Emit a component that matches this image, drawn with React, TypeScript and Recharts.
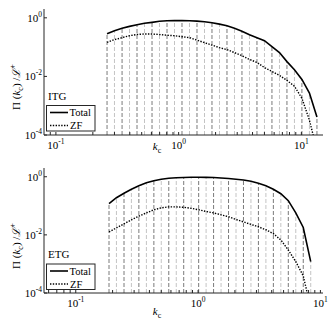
import React from 'react';
import { ComposedChart, Line, XAxis, YAxis, ReferenceLine } from 'recharts';

// ITG panel
const itgK = [0.261, 0.300, 0.346, 0.398, 0.458, 0.527, 0.607, 0.698, 0.804, 0.925, 1.065, 1.226, 1.411, 1.624, 1.869, 2.151, 2.476, 2.850, 3.280, 3.776, 4.346, 5.002, 5.757, 6.627, 7.627, 8.779, 10.10, 11.63, 13.39];
const itgTotal = [0.287, 0.36, 0.44, 0.51, 0.58, 0.65, 0.70, 0.76, 0.79, 0.80, 0.80, 0.79, 0.77, 0.73, 0.68, 0.61, 0.54, 0.44, 0.35, 0.265, 0.21, 0.166, 0.104, 0.065, 0.032, 0.017, 0.0079, 0.0027, 0.00041];
const itgZF = [0.146, 0.18, 0.21, 0.245, 0.27, 0.28, 0.28, 0.27, 0.255, 0.245, 0.227, 0.21, 0.173, 0.142, 0.117, 0.096, 0.082, 0.065, 0.051, 0.038, 0.030, 0.020, 0.0148, 0.0108, 0.0073, 0.0046, 0.0018, 0.00032, 0.00003];

// ETG panel
const etgK = [0.187, 0.215, 0.248, 0.285, 0.328, 0.378, 0.435, 0.500, 0.576, 0.663, 0.763, 0.878, 1.011, 1.163, 1.339, 1.541, 1.774, 2.042, 2.350, 2.705, 3.113, 3.584, 4.125, 4.748, 5.465, 6.290, 7.240, 8.333];
const etgTotal = [0.12, 0.19, 0.27, 0.37, 0.49, 0.62, 0.73, 0.82, 0.89, 0.92, 0.94, 0.96, 0.96, 0.95, 0.94, 0.91, 0.87, 0.82, 0.77, 0.70, 0.60, 0.49, 0.37, 0.26, 0.15, 0.057, 0.018, 0.0012];
const etgZF = [0.0126, 0.0174, 0.024, 0.033, 0.044, 0.057, 0.073, 0.085, 0.092, 0.092, 0.089, 0.082, 0.073, 0.064, 0.057, 0.049, 0.042, 0.034, 0.028, 0.023, 0.019, 0.015, 0.011, 0.0067, 0.0030, 0.0012, 0.00039, 0.00003];

const yTicks = [1e-4, 1e-2, 1];
const itgXTicks = [0.09, 0.1, 0.2, 0.3, 0.4, 0.5, 0.6, 0.7, 0.8, 0.9, 1, 2, 3, 4, 5, 6, 7, 8, 9, 10];
const etgXTicks = [0.06, 0.07, 0.08, 0.09, 0.1, 0.2, 0.3, 0.4, 0.5, 0.6, 0.7, 0.8, 0.9, 1, 2, 3, 4, 5, 6, 7, 8, 9, 10];
const majorX = [0.1, 1, 10];
const seriesNames = ['Total', 'ZF'];

const FONT = '"Liberation Serif", "DejaVu Serif", serif';
const AXIS = '#262626';

const expOf = (v: number) => String(Math.round(Math.log10(v)));
const isMajor = (v: number) => majorX.some((m) => Math.abs(m - v) / m < 1e-6);

const XTick = (props: any) => {
  const { x, y, payload } = props;
  const v = payload.value;
  if (!isMajor(v)) return <g />;
  return (
    <text x={x} y={y + 10} textAnchor="middle" fontFamily={FONT} fontSize={11} fill="#000">
      10<tspan dy={-5} fontSize={7.5}>{expOf(v)}</tspan>
    </text>
  );
};

const YTick = (props: any) => {
  const { x, y, payload } = props;
  return (
    <text x={x} y={y + 4} textAnchor="end" fontFamily={FONT} fontSize={11} fill="#000">
      10<tspan dy={-5} fontSize={7.5}>{expOf(payload.value)}</tspan>
    </text>
  );
};

const Empty = () => <g />;

type PanelProps = {
  k: number[];
  total: number[];
  zf: number[];
  xDomain: [number, number];
  xTicks: number[];
  name: string;
  marginTop: number;
  xAxisHeight: number;
  legendTop: number;
  kLabelY: number;
  yLabelY: number;
};

function Panel(p: PanelProps) {
  const data = p.k.map((k, i) => ({ k, total: p.total[i], zf: p.zf[i] }));
  return (
    <ComposedChart width={332} height={162} data={data} margin={{ top: p.marginTop, right: 9, bottom: 0, left: 0 }}>
      <XAxis
        dataKey="k"
        type="number"
        scale="log"
        domain={p.xDomain}
        allowDataOverflow
        ticks={p.xTicks}
        interval={0}
        tick={<XTick />}
        tickSize={-3}
        tickMargin={7}
        height={p.xAxisHeight}
        stroke={AXIS}
      />
      <XAxis
        xAxisId="top"
        orientation="top"
        type="number"
        scale="log"
        domain={p.xDomain}
        allowDataOverflow
        ticks={p.xTicks}
        interval={0}
        tick={<Empty />}
        tickSize={-3}
        height={0}
        stroke={AXIS}
      />
      <YAxis
        type="number"
        scale="log"
        domain={[1e-4, 2]}
        allowDataOverflow
        ticks={yTicks}
        interval={0}
        tick={<YTick />}
        tickSize={-3}
        tickMargin={5}
        width={44}
        stroke={AXIS}
      />
      <YAxis
        yAxisId="right"
        orientation="right"
        type="number"
        scale="log"
        domain={[1e-4, 2]}
        allowDataOverflow
        ticks={yTicks}
        interval={0}
        tick={<Empty />}
        tickSize={-3}
        width={0}
        stroke={AXIS}
      />
      {data.map((d, i) => (
        <ReferenceLine
          key={'s' + i}
          segment={[{ x: d.k, y: 1e-4 }, { x: d.k, y: d.total }]}
          stroke={i % 2 === 0 ? '#7a7a7a' : '#c4c4c4'}
          strokeWidth={1}
          strokeDasharray="4 2"
          ifOverflow="visible"
        />
      ))}
      <Line type="linear" dataKey="zf" stroke="#000" strokeWidth={1.4} strokeDasharray="1.4 1.4" dot={false} isAnimationActive={false} />
      <Line type="linear" dataKey="total" stroke="#000" strokeWidth={1.6} dot={false} isAnimationActive={false} />
      <text x={48} y={p.legendTop - 5.5} fontFamily={FONT} fontSize={11} fill="#000">{p.name}</text>
      <rect x={46.5} y={p.legendTop + 0.5} width={48.5} height={25.5} fill="#fff" stroke={AXIS} strokeWidth={1} />
      <line x1={50} x2={68} y1={p.legendTop + 7.5} y2={p.legendTop + 7.5} stroke="#000" strokeWidth={1.6} />
      <text x={69.5} y={p.legendTop + 11} fontFamily={FONT} fontSize={10.5} fill="#000">{seriesNames[0]}</text>
      <line x1={50} x2={68} y1={p.legendTop + 20.5} y2={p.legendTop + 20.5} stroke="#000" strokeWidth={1.4} strokeDasharray="1.4 1.4" />
      <text x={70} y={p.legendTop + 24} fontFamily={FONT} fontSize={10.5} fill="#000">{seriesNames[1]}</text>
      <text x={157} y={p.kLabelY} textAnchor="middle" fontFamily={FONT} fontSize={11} fill="#000">
        <tspan fontStyle="italic">k</tspan>
        <tspan dy={3} fontSize={8}>c</tspan>
      </text>
      <text transform={`translate(20, ${p.yLabelY}) rotate(-90)`} textAnchor="middle" fontFamily={FONT} fontSize={11} fill="#000">
        {'\u03A0 ('}
        <tspan fontStyle="italic">k</tspan>
        <tspan dy={3} fontSize={8}>c</tspan>
        <tspan dy={-3}>{') /'}</tspan>
        <tspan fontStyle="italic">{'\u2112'}</tspan>
        <tspan dy={-5} fontSize={8}>+</tspan>
      </text>
    </ComposedChart>
  );
}

export default function App() {
  return (
    <div style={{ position: 'absolute', left: 0, top: 0, width: 332, height: 324, background: '#fff' }}>
      <div style={{ position: 'absolute', left: 0, top: 0, width: 332, height: 162 }}>
        <Panel k={itgK} total={itgTotal} zf={itgZF} xDomain={[0.08, 15]} xTicks={itgXTicks} name="ITG"
          marginTop={9} xAxisHeight={27} legendTop={105} kLabelY={150} yLabelY={87} />
      </div>
      <div style={{ position: 'absolute', left: 0, top: 162, width: 332, height: 162 }}>
        <Panel k={etgK} total={etgTotal} zf={etgZF} xDomain={[0.055, 10.5]} xTicks={etgXTicks} name="ETG"
          marginTop={6} xAxisHeight={31} legendTop={101.5} kLabelY={153} yLabelY={84} />
      </div>
    </div>
  );
}
